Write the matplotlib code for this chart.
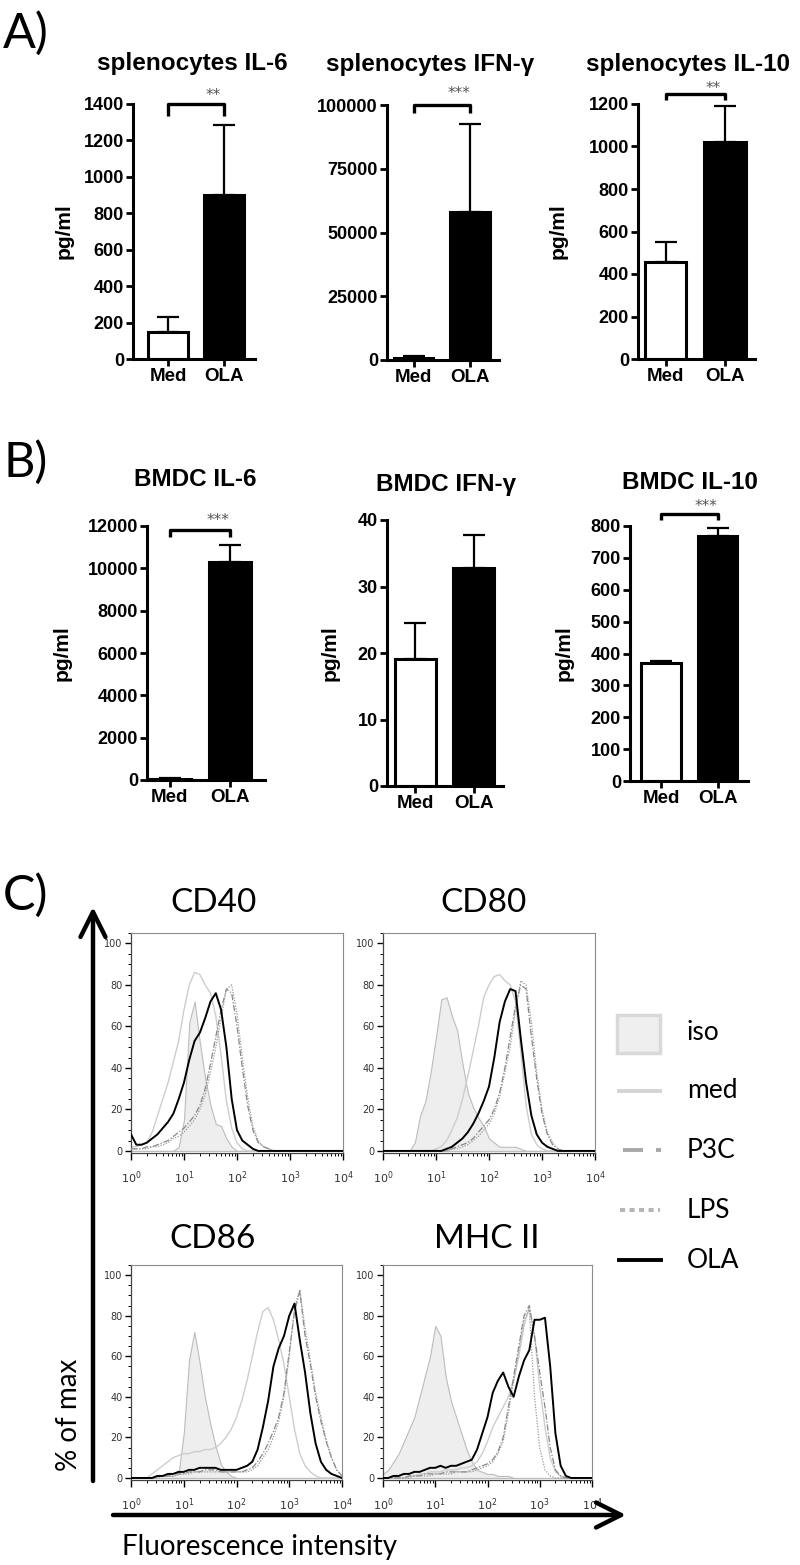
import numpy as np
import matplotlib
matplotlib.use('Agg')
import matplotlib.pyplot as plt
from matplotlib.lines import Line2D
from matplotlib.patches import Rectangle, FancyArrowPatch
from matplotlib.ticker import MultipleLocator, LogLocator

W, H = 800, 1565

# ---------------- data: cytokines (pg/ml), mean and upper error ----------------
groups = ['Med', 'OLA']

spl_il6 = [148, 900]
spl_il6_err = [82, 385]
spl_ifng = [900, 58000]
spl_ifng_err = [500, 34500]
spl_il10 = [457, 1021]
spl_il10_err = [93, 169]

bmdc_il6 = [60, 10300]
bmdc_il6_err = [15, 800]
bmdc_ifng = [19.1, 32.8]
bmdc_ifng_err = [5.4, 4.9]
bmdc_il10 = [370, 768]
bmdc_il10_err = [6, 25]

# ---------------- data: flow histograms (% of max) on a log10 grid ----------------
log_fi = [0.0, 0.1, 0.2, 0.3, 0.4, 0.5, 0.6, 0.7, 0.8, 0.9,
          1.0, 1.1, 1.2, 1.3, 1.4, 1.5, 1.6, 1.7, 1.8, 1.9,
          2.0, 2.1, 2.2, 2.3, 2.4, 2.5, 2.6, 2.7, 2.8, 2.9,
          3.0, 3.1, 3.2, 3.3, 3.4, 3.5, 3.6, 3.7, 3.8, 3.9, 4.0]

cd40_iso = [0, 0, 0, 0, 0, 0, 0, 0, 0, 2,
            15, 62, 72, 52, 35, 22, 13, 12, 6, 2,
            0, 0, 0, 0, 0, 0, 0, 0, 0, 0,
            0, 0, 0, 0, 0, 0, 0, 0, 0, 0, 0]
cd40_med = [2, 2, 3, 4, 9, 17, 25, 33, 43, 53,
            68, 80, 86, 85, 80, 76, 65, 46, 24, 11,
            4, 1, 0, 0, 0, 0, 0, 0, 0, 0,
            0, 0, 0, 0, 0, 0, 0, 0, 0, 0, 0]
cd40_p3c = [1, 1, 1, 2, 2, 3, 4, 5, 7, 9,
            11, 14, 17, 22, 30, 42, 55, 68, 78, 76,
            60, 40, 22, 10, 4, 2, 1, 0, 0, 0,
            0, 0, 0, 0, 0, 0, 0, 0, 0, 0, 0]
cd40_lps = [1, 1, 1, 1, 2, 2, 3, 4, 6, 7,
            9, 12, 15, 20, 27, 38, 50, 64, 78, 80,
            66, 45, 26, 12, 5, 2, 1, 0, 0, 0,
            0, 0, 0, 0, 0, 0, 0, 0, 0, 0, 0]
cd40_ola = [8, 3, 3, 4, 6, 8, 11, 14, 18, 25,
            33, 44, 53, 57, 64, 72, 76, 68, 50, 25,
            10, 5, 3, 1, 0, 0, 0, 0, 0, 0,
            0, 0, 0, 0, 0, 0, 0, 0, 0, 0, 0]

cd80_iso = [0, 0, 0, 0, 0, 0, 4, 17, 24, 38,
            55, 73, 74, 65, 58, 42, 28, 21, 16, 12,
            6, 4, 2, 2, 2, 2, 1, 0, 0, 0,
            0, 0, 0, 0, 0, 0, 0, 0, 0, 0, 0]
cd80_med = [0, 0, 0, 0, 0, 0, 0, 0, 0, 0,
            1, 2, 5, 10, 16, 25, 36, 48, 60, 74,
            80, 84, 85, 82, 80, 72, 48, 22, 8, 3,
            1, 0, 0, 0, 0, 0, 0, 0, 0, 0, 0]
cd80_p3c = [0, 0, 0, 0, 0, 0, 0, 0, 0, 0,
            0, 0, 0, 1, 2, 3, 4, 6, 9, 12,
            15, 20, 28, 40, 55, 70, 80, 78, 55, 35,
            18, 8, 3, 1, 0, 0, 0, 0, 0, 0, 0]
cd80_lps = [0, 0, 0, 0, 0, 0, 0, 0, 0, 0,
            0, 0, 0, 1, 1, 2, 3, 5, 7, 10,
            13, 18, 26, 38, 50, 68, 82, 80, 62, 38,
            20, 9, 4, 1, 0, 0, 0, 0, 0, 0, 0]
cd80_ola = [0, 0, 0, 0, 0, 0, 0, 0, 0, 0,
            0, 0, 1, 2, 4, 6, 9, 13, 18, 24,
            31, 45, 62, 72, 78, 77, 54, 33, 17, 8,
            4, 2, 1, 0, 0, 0, 0, 0, 0, 0, 0]

cd86_iso = [0, 0, 0, 0, 0, 1, 1, 1, 1, 2,
            22, 58, 72, 57, 40, 27, 16, 7, 3, 1,
            0, 0, 0, 0, 0, 0, 0, 0, 0, 0,
            0, 0, 0, 0, 0, 0, 0, 0, 0, 0, 0]
cd86_med = [0, 0, 0, 0, 2, 4, 6, 8, 10, 11,
            12, 12, 13, 13, 14, 14, 15, 17, 20, 24,
            30, 38, 48, 60, 72, 82, 84, 78, 68, 56,
            40, 24, 12, 6, 3, 1, 0, 0, 0, 0, 0]
cd86_p3c = [0, 0, 0, 0, 0, 1, 1, 1, 2, 2,
            2, 3, 3, 3, 4, 4, 4, 3, 3, 3,
            3, 3, 4, 5, 8, 12, 17, 23, 30, 42,
            62, 82, 92, 70, 56, 40, 28, 18, 10, 4, 1]
cd86_lps = [0, 0, 0, 0, 0, 0, 1, 1, 1, 2,
            2, 2, 3, 3, 3, 3, 3, 3, 3, 3,
            3, 3, 3, 4, 6, 10, 14, 20, 28, 40,
            60, 84, 93, 74, 58, 42, 30, 19, 10, 4, 1]
cd86_ola = [0, 0, 0, 0, 0, 1, 1, 2, 2, 3,
            3, 4, 4, 5, 5, 5, 5, 4, 4, 4,
            4, 5, 6, 8, 14, 25, 38, 55, 64, 70,
            80, 86, 68, 52, 32, 17, 8, 4, 2, 1, 0]

mhc_iso = [2, 4, 8, 12, 18, 24, 30, 40, 50, 60,
           75, 70, 50, 38, 30, 22, 14, 8, 4, 3,
           2, 2, 1, 1, 1, 0, 0, 0, 0, 0,
           0, 0, 0, 0, 0, 0, 0, 0, 0, 0, 0]
mhc_med = [0, 0, 0, 0, 0, 1, 1, 2, 2, 3,
           3, 3, 4, 4, 4, 5, 5, 6, 8, 12,
           18, 25, 30, 35, 40, 48, 60, 75, 84, 70,
           45, 25, 10, 3, 1, 0, 0, 0, 0, 0, 0]
mhc_p3c = [0, 0, 0, 0, 0, 1, 1, 1, 2, 2,
           2, 2, 3, 3, 3, 3, 3, 4, 5, 6,
           7, 9, 13, 20, 35, 50, 65, 80, 85, 70,
           52, 35, 15, 4, 1, 0, 0, 0, 0, 0, 0]
mhc_lps = [0, 0, 0, 0, 0, 0, 1, 1, 1, 1,
           2, 2, 2, 2, 3, 3, 3, 3, 4, 5,
           6, 8, 12, 18, 32, 48, 63, 78, 83, 40,
           15, 4, 1, 0, 0, 0, 0, 0, 0, 0, 0]
mhc_ola = [0, 0, 1, 1, 2, 2, 3, 3, 4, 5,
           5, 6, 5, 6, 6, 7, 8, 9, 14, 22,
           30, 42, 48, 52, 45, 40, 50, 58, 63, 78,
           78, 79, 55, 22, 6, 1, 0, 0, 0, 0, 0]

legend_labels = ['iso', 'med', 'P3C', 'LPS', 'OLA']

# ---------------- helpers ----------------
fig = plt.figure(figsize=(W / 100, H / 100), dpi=100)
fig.patch.set_facecolor('white')

ARIAL = 'Liberation Sans'
CALIBRI = ['Lato', 'DejaVu Sans']


def box(left, right, top, bottom):
    return [left / W, 1 - bottom / H, (right - left) / W, (bottom - top) / H]


def fx(x):
    return x / W


def fy(y):
    return 1 - y / H


def bar_panel(rect, vals, errs, ymax, ystep, xlim, title, tx, ty,
              ylab_x=None, bracket=None, stars=''):
    ax = fig.add_axes(box(*rect))
    xs = [0, 1]
    ax.bar(xs, vals, width=0.7, color=['white', 'black'], edgecolor='black',
           linewidth=2.2, zorder=2)
    for x, v, e in zip(xs, vals, errs):
        ax.errorbar(x, v, yerr=[[0], [e]], color='black', elinewidth=1.6,
                    capsize=8, capthick=1.6, zorder=3)
    ax.set_xlim(*xlim)
    ax.set_ylim(0, ymax)
    ticks = list(range(0, ymax + 1, ystep))
    ax.set_yticks(ticks)
    ax.set_yticklabels([str(t) for t in ticks], fontsize=13, fontweight='bold',
                       family=ARIAL)
    ax.set_xticks(xs)
    ax.set_xticklabels(groups, fontsize=13.5, fontweight='bold', family=ARIAL)
    for s in ['top', 'right']:
        ax.spines[s].set_visible(False)
    for s in ['left', 'bottom']:
        ax.spines[s].set_linewidth(2.2)
    ax.tick_params(direction='out', length=5, width=2, pad=1.5)
    if ylab_x is not None:
        ax.set_ylabel('pg/ml', fontsize=15, fontweight='bold', family=ARIAL)
        ax.yaxis.set_label_coords(ylab_x, 0.5)
    if bracket is not None:
        lo, hi, ys = bracket
        ax.plot([0, 0, 1, 1], [lo, hi, hi, lo], color='black', lw=2.4,
                clip_on=False, solid_capstyle='butt')
        ax.text(0.8, ys, stars, ha='center', va='center', fontsize=11,
                color='#555555', family='DejaVu Sans', clip_on=False)
    fig.text(fx(tx), fy(ty), title, ha='center', va='baseline', fontsize=17.5,
             fontweight='bold', family=ARIAL)
    return ax


def histo(rect, iso, med, p3c, lps, ola, title, tx, ty):
    ax = fig.add_axes(box(*rect))
    x = np.power(10.0, log_fi)
    ax.fill_between(x, 0, iso, facecolor='#eeeeee', edgecolor='#bcbcbc',
                    lw=0.8, zorder=1)
    ax.plot(x, med, color='#cdcdcd', lw=1.0, zorder=2)
    ax.plot(x, p3c, color='#888888', lw=0.9, ls=(0, (5, 1.5, 1, 1.5)), zorder=3)
    ax.plot(x, lps, color='#999999', lw=0.9, ls=(0, (1, 1.2)), zorder=3)
    ax.plot(x, ola, color='black', lw=1.4, zorder=4)
    ax.set_xscale('log')
    ax.set_xlim(1, 1e4)
    ax.set_ylim(-1, 105)
    ax.set_yticks([0, 20, 40, 60, 80, 100])
    ax.yaxis.set_minor_locator(MultipleLocator(5))
    ax.xaxis.set_major_locator(LogLocator(base=10, numticks=10))
    ax.xaxis.set_minor_locator(LogLocator(base=10, subs=np.arange(2, 10), numticks=20))
    ax.tick_params(axis='both', which='major', direction='out', length=4,
                   width=1, labelsize=7, labelcolor='#333333', pad=2)
    ax.tick_params(axis='both', which='minor', direction='out', length=2,
                   width=0.7)
    ax.tick_params(axis='x', which='major', length=5, pad=7, labelsize=8)
    for s in ['top', 'right']:
        ax.spines[s].set_color('#8c8c8c')
        ax.spines[s].set_linewidth(0.8)
    for s in ['left', 'bottom']:
        ax.spines[s].set_color('#444444')
        ax.spines[s].set_linewidth(0.9)
    fig.text(fx(tx), fy(ty), title, ha='center', va='baseline', fontsize=24,
             family=CALIBRI)
    return ax


# ---------------- panel A ----------------
fig.text(fx(3), fy(48), 'A)', fontsize=35, family=CALIBRI, va='baseline')
bar_panel((133, 255, 104, 359), spl_il6, spl_il6_err, 1400, 200, (-0.625, 1.554),
          'splenocytes IL-6', 192, 70, ylab_x=-0.49,
          bracket=(1335, 1400, 1445), stars='**')
bar_panel((387, 499, 105, 360), spl_ifng, spl_ifng_err, 100000, 25000, (-0.47, 1.51),
          'splenocytes IFN-γ', 430, 71,
          bracket=(97000, 100000, 104500), stars='***')
bar_panel((638, 755, 104, 359), spl_il10, spl_il10_err, 1200, 200, (-0.47, 1.51),
          'splenocytes IL-10', 688, 71, ylab_x=-0.6,
          bracket=(1219, 1247, 1272), stars='**')

# ---------------- panel B ----------------
fig.text(fx(3), fy(477), 'B)', fontsize=35, family=CALIBRI, va='baseline')
bar_panel((147, 265, 526, 780), bmdc_il6, bmdc_il6_err, 12000, 2000, (-0.38, 1.58),
          'BMDC IL-6', 195, 486, ylab_x=-0.64,
          bracket=(11480, 11800, 12280), stars='***')
bar_panel((387, 503, 520, 786), bmdc_ifng, bmdc_ifng_err, 40, 10, (-0.48, 1.50),
          'BMDC IFN-γ', 446, 491, ylab_x=-0.405)
bar_panel((630, 748, 526, 781), bmdc_il10, bmdc_il10_err, 800, 100, (-0.55, 1.54),
          'BMDC IL-10', 690, 489, ylab_x=-0.48,
          bracket=(818, 837, 862), stars='***')

# ---------------- panel C ----------------
fig.text(fx(3), fy(910), 'C)', fontsize=35, family=CALIBRI, va='baseline')
histo((131, 343, 933, 1153), cd40_iso, cd40_med, cd40_p3c, cd40_lps, cd40_ola,
      'CD40', 213, 912)
histo((383, 595, 933, 1153), cd80_iso, cd80_med, cd80_p3c, cd80_lps, cd80_ola,
      'CD80', 483, 912)
histo((131, 342, 1265, 1480), cd86_iso, cd86_med, cd86_p3c, cd86_lps, cd86_ola,
      'CD86', 213, 1248)
histo((383, 592, 1265, 1480), mhc_iso, mhc_med, mhc_p3c, mhc_lps, mhc_ola,
      'MHC II', 487, 1248)

# axis arrows
arrow_kw = dict(transform=fig.transFigure, color='black', lw=3.2,
                arrowstyle='->,head_length=0.9,head_width=0.45',
                mutation_scale=20, shrinkA=0, shrinkB=0)
fig.add_artist(FancyArrowPatch((fx(93), fy(1481)), (fx(93), fy(907)), **arrow_kw))
fig.add_artist(FancyArrowPatch((fx(113), fy(1515)), (fx(626), fy(1515)), **arrow_kw))
fig.text(fx(69), fy(1415), '% of max', rotation=90, ha='center', va='center',
         fontsize=20, family=CALIBRI)
fig.text(fx(122), fy(1555), 'Fluorescence intensity', ha='left', va='baseline',
         fontsize=20, family=CALIBRI)

# legend (drawn by hand)
leg_y = [1033, 1091, 1150, 1210, 1260]
tr = fig.transFigure
fig.add_artist(Rectangle((fx(617), fy(1053)), (660 - 617) / W, (1053 - 1015) / H,
                         transform=tr, facecolor='#efefef', edgecolor='#d9d9d9', lw=2.5))
fig.add_artist(Line2D([fx(619), fx(660)], [fy(leg_y[1])] * 2, transform=tr,
                      color='#d4d4d4', lw=2.8))
fig.add_artist(Line2D([fx(623), fx(643)], [fy(leg_y[2])] * 2, transform=tr,
                      color='#a8a8a8', lw=2.8, solid_capstyle='butt'))
fig.add_artist(Line2D([fx(656), fx(661)], [fy(leg_y[2])] * 2, transform=tr,
                      color='#a8a8a8', lw=2.8, solid_capstyle='butt'))
fig.add_artist(Line2D([fx(620), fx(660)], [fy(leg_y[3])] * 2, transform=tr,
                      color='#b3b3b3', lw=2.8, ls=(0, (1.3, 1.15))))
fig.add_artist(Line2D([fx(619), fx(661)], [fy(leg_y[4])] * 2, transform=tr,
                      color='black', lw=2.8))
for lab, y in zip(legend_labels, leg_y):
    fig.text(fx(687), fy(y), lab, ha='left', va='center', fontsize=19,
             family=CALIBRI)

fig.savefig('out.png', dpi=100, facecolor='white')
